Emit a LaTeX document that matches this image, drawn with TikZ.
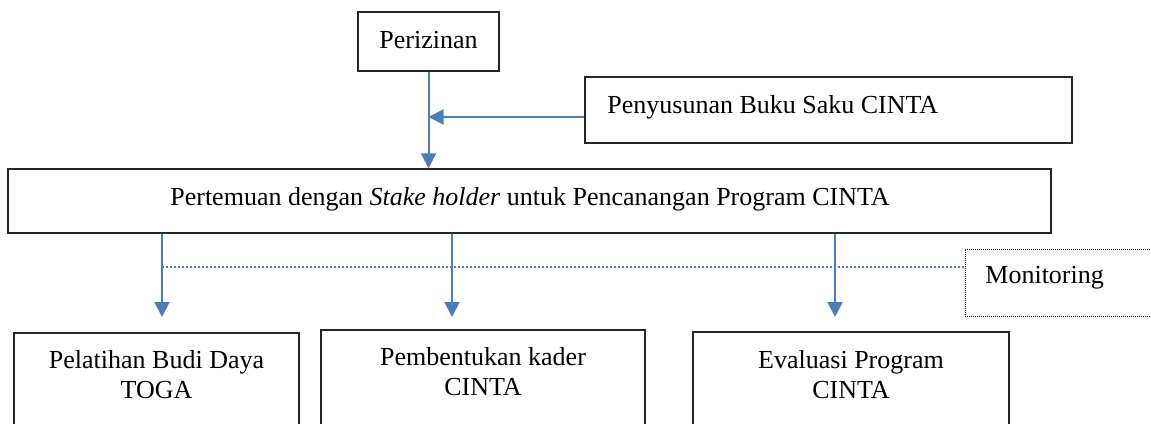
\documentclass[tikz,border=0pt]{standalone}
\usepackage{fontspec}
\setmainfont{Liberation Serif}
\usetikzlibrary{arrows.meta,fit}
\definecolor{arrowblue}{HTML}{4A7EBB}
\begin{document}
\begin{tikzpicture}[x=0.5pt,y=-0.5pt,
  box/.style={draw=black!85, line width=0.7pt, inner sep=0pt},
  dotbox/.style={draw=black, line width=0.5pt, dash pattern=on 0.5pt off 0.5pt, inner sep=0pt},
  txt/.style={font=\fontsize{13}{15}\selectfont, inner sep=0pt, anchor=base, align=center},
  flow/.style={draw=arrowblue, line width=1pt, -{Triangle[width=7.5pt,length=7.5pt]}},
  mon/.style={draw=arrowblue, line width=1pt, dash pattern=on 1pt off 1pt}]
\useasboundingbox (0,0) rectangle (1151,423);
\clip (0,0) rectangle (1151,423);
% boxes
\node[box, fit={(358,12) (499,71)}] (izin) {};
\node[box, fit={(585,77) (1072,143)}] (buku) {};
\node[box, fit={(8,169) (1051,233)}] (big) {};
\node[dotbox, fit={(965,249) (1160,316)}] (mon) {};
\node[box, fit={(14,333) (299,450)}] (b1) {};
\node[box, fit={(321,330) (645,450)}] (b2) {};
\node[box, fit={(693,332) (1009,450)}] (b3) {};
% texts
\node[txt] (tizin) at (428.5,48) {Perizinan};
\node[txt, anchor=base west] (tbuku) at (607,113) {Penyusunan Buku Saku CINTA};
\node[txt] (tbig) at (530,205) {Pertemuan dengan \textit{Stake holder} untuk Pencanangan Program CINTA};
\node[txt, anchor=base west] (tmon) at (985,283) {Monitoring};
\node[txt] (tb1) at (156.5,398) {Pelatihan Budi Daya\\TOGA};
\node[txt] (tb2) at (483,395) {Pembentukan kader\\CINTA};
\node[txt] (tb3) at (851,398) {Evaluasi Program\\CINTA};
% connectors
\coordinate (bj) at (428.5,117);
\draw[flow] (izin.south) -- (izin.south |- big.north);
\draw[flow] (buku.west |- bj) -- (bj);
\coordinate (a1) at (162,317);
\coordinate (a2) at (452,317);
\coordinate (a3) at (835,317);
\draw[flow] (a1 |- big.south) -- (a1);
\draw[flow] (a2 |- big.south) -- (a2);
\draw[flow] (a3 |- big.south) -- (a3);
\coordinate (m0) at (162,267);
\draw[mon] (m0) -- (m0 -| mon.west);
\end{tikzpicture}
\end{document}
